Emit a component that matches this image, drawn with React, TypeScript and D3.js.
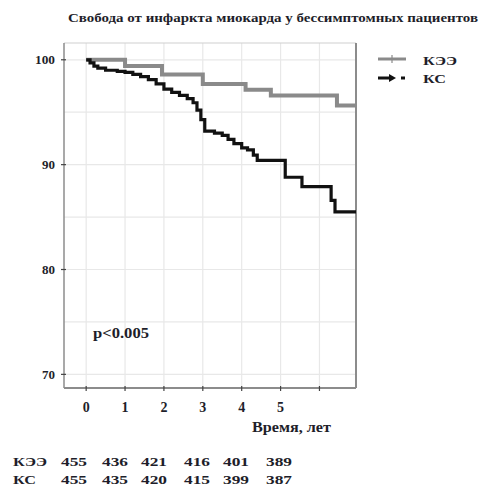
import React from "react";
import * as d3 from "d3";

const title = "Свобода от инфаркта миокарда у бессимптомных пациентов";
const seriesNames = ["КЭЭ", "КС"];

const timeKEE = [0, 1.0, 1.95, 3.0, 4.1, 4.75, 6.45, 6.94];
const survKEE = [100, 99.4, 98.6, 97.7, 97.15, 96.6, 95.65, 95.65];

const timeKS = [0, 0.1, 0.2, 0.3, 0.5, 0.8, 1.0, 1.2, 1.4, 1.6, 1.8, 2.0, 2.2, 2.4, 2.6, 2.75, 2.85, 2.95, 3.05, 3.3, 3.5, 3.65, 3.8, 4.0, 4.15, 4.3, 4.4, 5.12, 5.55, 6.3, 6.4, 6.94];
const survKS = [100, 99.7, 99.4, 99.2, 99.0, 98.9, 98.8, 98.6, 98.4, 98.1, 97.7, 97.2, 96.9, 96.6, 96.3, 95.9, 95.2, 94.3, 93.2, 93.0, 92.8, 92.4, 92.0, 91.6, 91.4, 90.9, 90.4, 88.8, 87.9, 86.6, 85.5, 85.5];

const yTickLabels = [70, 80, 90, 100];
const yGrid = [70, 75, 80, 85, 90, 95, 100];
const xTickLabels = [0, 1, 2, 3, 4, 5];
const xTicks = [0, 1, 2, 3, 4, 5, 6];

const riskKEE = [455, 436, 421, 416, 401, 389];
const riskKS = [455, 435, 420, 415, 399, 387];
const riskCentersRow = [74, 115, 154, 197, 236, 279];

const pText = "p<0.005";
const xAxisTitle = "Время, лет";

export default function App() {
  const x = d3.scaleLinear().domain([-0.57, 6.94]).range([64, 356]);
  const y = d3.scaleLinear().domain([68.7, 101.6]).range([388, 43]);
  const line = d3
    .line<[number, number]>()
    .x((d) => x(d[0]))
    .y((d) => y(d[1]))
    .curve(d3.curveStepAfter);
  const keeData = timeKEE.map((t, i) => [t, survKEE[i]] as [number, number]);
  const ksData = timeKS.map((t, i) => [t, survKS[i]] as [number, number]);
  const font = "'Liberation Serif', 'Times New Roman', serif";
  const txt = "#1e1e2a";
  const [x0, x1] = x.range();
  const [y0, y1] = y.range();
  const adj = "spacingAndGlyphs";

  return (
    <svg
      width={479}
      height={486}
      style={{ position: "absolute", left: 0, top: 0, background: "#fff" }}
      fontFamily={font}
      fontWeight="bold"
    >
      <rect width={479} height={486} fill="#fff" />
      <text x={273} y={22} textAnchor="middle" fontSize={12} fill={txt} textLength={410} lengthAdjust={adj}>
        {title}
      </text>
      {yGrid.map((v) => (
        <line key={"gy" + v} x1={x0} x2={x1} y1={y(v)} y2={y(v)} stroke="#e8e8e8" strokeWidth={1.2} />
      ))}
      {xTicks.map((t) => (
        <line key={"gx" + t} x1={x(t)} x2={x(t)} y1={y1} y2={y0} stroke="#e8e8e8" strokeWidth={1.2} />
      ))}
      <line x1={x0} x2={x1} y1={y1} y2={y1} stroke="#d0d0d0" strokeWidth={1.2} />
      <line x1={x1} x2={x1} y1={y1} y2={y0} stroke="#8c8c8c" strokeWidth={2} />
      <line x1={x0} x2={x1} y1={y0} y2={y0} stroke="#8c8c8c" strokeWidth={2} />
      <line x1={x0} x2={x0} y1={y1} y2={y0} stroke="#8c8c8c" strokeWidth={1.5} />
      {yTickLabels.map((v) => (
        <g key={"yt" + v}>
          <line x1={x0 - 3} x2={x0 + 2} y1={y(v)} y2={y(v)} stroke="#444" strokeWidth={1.2} />
          <text x={55} y={y(v) + 4.5} textAnchor="end" fontSize={13} fill={txt} textLength={v === 100 ? 20 : 13} lengthAdjust={adj}>
            {v}
          </text>
        </g>
      ))}
      {xTicks.map((t) => (
        <line key={"xt" + t} x1={x(t)} x2={x(t)} y1={y0 - 2} y2={y0 + 3} stroke="#444" strokeWidth={1.2} />
      ))}
      {xTickLabels.map((t) => (
        <text key={"xl" + t} x={x(t)} y={412} textAnchor="middle" fontSize={14} fill={txt}>
          {t}
        </text>
      ))}
      <text x={252} y={432} fontSize={14} fill={txt} textLength={79} lengthAdjust={adj}>
        {xAxisTitle}
      </text>
      <text x={93} y={338} fontSize={14} fill={txt} textLength={56} lengthAdjust={adj}>
        {pText}
      </text>
      <path d={line(keeData) || ""} fill="none" stroke="#8a8a8a" strokeWidth={4} />
      <path d={line(ksData) || ""} fill="none" stroke="#111" strokeWidth={3.2} />
      <line x1={378} x2={406} y1={59} y2={59} stroke="#8a8a8a" strokeWidth={3} />
      <line x1={392} x2={392} y1={55} y2={63} stroke="#8a8a8a" strokeWidth={1.2} />
      <text x={423} y={64.5} fontSize={13.5} fill={txt} textLength={34} lengthAdjust={adj}>
        {seriesNames[0]}
      </text>
      <line x1={378} x2={391} y1={78} y2={78} stroke="#111" strokeWidth={3} />
      <path d="M389,74 L396,78 L389,82 Z" fill="#111" />
      <rect x={401} y={76.5} width={4} height={3} fill="#111" />
      <text x={423} y={83} fontSize={13.5} fill={txt} textLength={23} lengthAdjust={adj}>
        {seriesNames[1]}
      </text>
      <text x={13} y={466} fontSize={12.5} fill={txt} textLength={34} lengthAdjust={adj}>
        {seriesNames[0]}
      </text>
      <text x={13} y={484} fontSize={12.5} fill={txt} textLength={23} lengthAdjust={adj}>
        {seriesNames[1]}
      </text>
      {riskKEE.map((n, i) => (
        <text key={"r1" + i} x={riskCentersRow[i]} y={466} textAnchor="middle" fontSize={12.5} fill={txt} textLength={26} lengthAdjust={adj}>
          {n}
        </text>
      ))}
      {riskKS.map((n, i) => (
        <text key={"r2" + i} x={riskCentersRow[i]} y={484} textAnchor="middle" fontSize={12.5} fill={txt} textLength={26} lengthAdjust={adj}>
          {n}
        </text>
      ))}
    </svg>
  );
}
